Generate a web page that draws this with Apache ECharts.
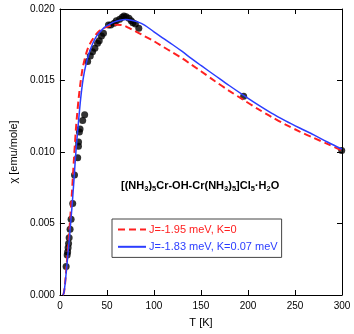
<!DOCTYPE html>
<html>
<head>
<meta charset="utf-8">
<script src="https://cdn.jsdelivr.net/npm/echarts@6/dist/echarts.min.js"></script>
<style>
  html, body { margin: 0; padding: 0; background: #fff; }
  #chart { width: 354px; height: 334px; }
</style>
</head>
<body>
<div id="chart"></div>
<script>
// measured points, T [K] and chi [emu/mole]
const dataT = [6.6, 7.7, 8.2, 8.7, 9.2, 9.8, 10.8, 11.9, 13.6, 15.5, 18.9, 19.7, 19.8, 20.7, 21.4, 24.2, 26.3,
  29.5, 32.3, 34.7, 37.2, 40.0, 41.8, 44.2, 46.3, 51.6, 54.0, 57.6, 60.0, 63.5, 66.3, 68.1, 70.5, 73.4, 75.8, 77.6, 80.3, 83.9,
  195.4, 299.7]
const dataChi = [0.0020, 0.0028, 0.0030, 0.0033, 0.0036, 0.0040, 0.0046, 0.0053, 0.0064, 0.0084, 0.0096, 0.0104, 0.0107, 0.0114, 0.0116, 0.0122, 0.0126,
  0.01632, 0.01671, 0.01701, 0.01725, 0.0176, 0.01778, 0.01811, 0.0183, 0.01888, 0.01888, 0.0190, 0.01918, 0.01928, 0.01942, 0.01951, 0.01946, 0.01935, 0.01918, 0.01904, 0.01895, 0.01865,
  0.0139, 0.0101]

// fit J=-1.95 meV, K=0 (red dashed)
const fitAT = [3, 4, 5, 6, 7, 8, 9, 10, 11, 12, 13, 14, 15, 16, 17, 18, 20, 22, 24, 26, 28, 30, 33, 36, 40, 45, 50, 55,
  60, 66, 72, 80, 90, 100, 110, 120, 130, 140, 150, 165, 180, 195, 210, 225, 240, 255, 270, 285, 300]
const fitAChi = [0, 0.0001, 0.0005, 0.0012, 0.0020, 0.0028, 0.0036, 0.0045, 0.0054, 0.0064, 0.0074, 0.0085, 0.0096, 0.0106, 0.0116, 0.0124, 0.0138, 0.0149, 0.0158, 0.0164, 0.0169, 0.0173, 0.0177, 0.0180, 0.01835, 0.0186, 0.01875, 0.01885,
  0.0189, 0.01888, 0.01872, 0.01845, 0.0181, 0.01775, 0.01735, 0.01695, 0.01655, 0.0161, 0.01565, 0.01495, 0.01428, 0.01365, 0.01303, 0.01245, 0.01192, 0.01143, 0.01098, 0.01055, 0.0101]

// fit J=-1.83 meV, K=0.07 meV (blue)
const fitBT = [3, 4, 5, 6, 7, 8, 9, 10, 11, 12, 13, 14, 15, 16, 17, 18, 20, 22, 24, 26, 28, 30, 32, 35, 38, 42, 47, 52,
  58, 64, 70, 76, 82, 90, 100, 110, 120, 130, 140, 150, 165, 180, 195, 210, 225, 240, 255, 270, 285, 300]
const fitBChi = [0, 0.0001, 0.0005, 0.0011, 0.0018, 0.0025, 0.0032, 0.0039, 0.0047, 0.0055, 0.0063, 0.0072, 0.0081, 0.0091, 0.0100, 0.0108, 0.0123, 0.0137, 0.0148, 0.0156, 0.0162, 0.0167, 0.0171, 0.0176, 0.0180, 0.01835, 0.0187, 0.0189,
  0.01910, 0.01922, 0.01926, 0.01922, 0.01912, 0.01888, 0.0184, 0.01795, 0.0175, 0.01703, 0.01653, 0.01605, 0.01535, 0.01465, 0.01398, 0.01333, 0.01272, 0.01218, 0.01168, 0.0112, 0.01068, 0.0102]

const xTicks = [0, 50, 100, 150, 200, 250, 300]
const yTicks = [0, 0.005, 0.010, 0.015, 0.020]

const nameA = 'J=-1.95 meV, K=0'
const nameB = 'J=-1.83 meV, K=0.07 meV'
const font = "'Liberation Sans', Arial, Helvetica, sans-serif"

function pairs (xs, ys) {
  return xs.map((x, i) => [x, ys[i]])
}

function axisX (pos, showLabel) {
  return {
    type: 'value',
    position: pos,
    min: xTicks[0],
    max: xTicks[xTicks.length - 1],
    interval: xTicks[1] - xTicks[0],
    axisLine: { show: true, onZero: false, lineStyle: { color: '#000', width: 1 } },
    axisTick: { show: true, inside: true, length: 5, lineStyle: { color: '#000' } },
    axisLabel: { show: showLabel, color: '#000', fontSize: 10, fontFamily: font, margin: 6 },
    splitLine: { show: false }
  }
}

function axisY (pos, showLabel) {
  return {
    type: 'value',
    position: pos,
    min: yTicks[0],
    max: yTicks[yTicks.length - 1],
    interval: yTicks[1] - yTicks[0],
    axisLine: { show: true, onZero: false, lineStyle: { color: '#000', width: 1 } },
    axisTick: { show: true, inside: true, length: 5, lineStyle: { color: '#000' } },
    axisLabel: { show: showLabel, color: '#000', fontSize: 10, fontFamily: font, margin: 5,
      formatter: v => v.toFixed(3) },
    splitLine: { show: false }
  }
}

let chart = echarts.init(document.getElementById('chart'), null, { renderer: 'canvas' })

let bottomX = axisX('bottom', true)
bottomX.name = 'T [K]'
bottomX.nameLocation = 'middle'
bottomX.nameGap = 22
bottomX.nameTextStyle = { color: '#000', fontSize: 11, fontFamily: font }

let leftY = axisY('left', true)
leftY.name = 'χ [emu/mole]'
leftY.nameLocation = 'middle'
leftY.nameGap = 38
leftY.nameTextStyle = { color: '#000', fontSize: 11, fontFamily: font }

let option = {
  backgroundColor: '#fff',
  animation: false,
  grid: { left: 57, right: 12, top: 9, bottom: 39, containLabel: false },
  xAxis: [bottomX, axisX('top', false)],
  yAxis: [leftY, axisY('right', false)],
  legend: {
    data: [
      { name: nameA, textStyle: { color: '#ff2020' } },
      { name: nameB, textStyle: { color: '#2b3dff' } }
    ],
    orient: 'vertical',
    left: 112,
    top: 219,
    padding: [5, 4, 5, 5],
    itemGap: 6,
    itemWidth: 28,
    itemHeight: 14,
    itemStyle: { opacity: 0 },
    borderColor: '#444',
    borderWidth: 1,
    borderRadius: 0,
    textStyle: { fontSize: 11, fontFamily: font, padding: [0, 0, 0, -2] }
  },
  graphic: [{
    type: 'text',
    left: 121,
    top: 179,
    style: {
      text: '{m|[(NH}{s|3}{m|)}{s|5}{m|Cr-OH-Cr(NH}{s|3}{m|)}{s|5}{m|]Cl}{s|5}{m|·H}{s|2}{m|O}',
      fill: '#000',
      rich: {
        m: { fontSize: 11, fontWeight: 'bold', fontFamily: font, verticalAlign: 'top', lineHeight: 13 },
        s: { fontSize: 7.5, fontWeight: 'bold', fontFamily: font, verticalAlign: 'bottom', lineHeight: 9, padding: [6, 0, 0, 0] }
      }
    }
  }],
  series: [{
    name: 'data',
    type: 'scatter',
    data: pairs(dataT, dataChi),
    symbol: 'circle',
    symbolSize: 7,
    itemStyle: { color: '#000' },
    z: 2
  }, {
    name: nameA,
    type: 'line',
    data: pairs(fitAT, fitAChi),
    symbol: 'none',
    smooth: 0.3,
    lineStyle: { color: '#ff2020', width: 2, type: [7, 4] },
    itemStyle: { color: '#ff2020' },
    z: 3
  }, {
    name: nameB,
    type: 'line',
    data: pairs(fitBT, fitBChi),
    symbol: 'none',
    smooth: 0.3,
    lineStyle: { color: '#2b3dff', width: 1.5 },
    itemStyle: { color: '#2b3dff' },
    z: 4
  }]
}

chart.setOption(option)
</script>
</body>
</html>
